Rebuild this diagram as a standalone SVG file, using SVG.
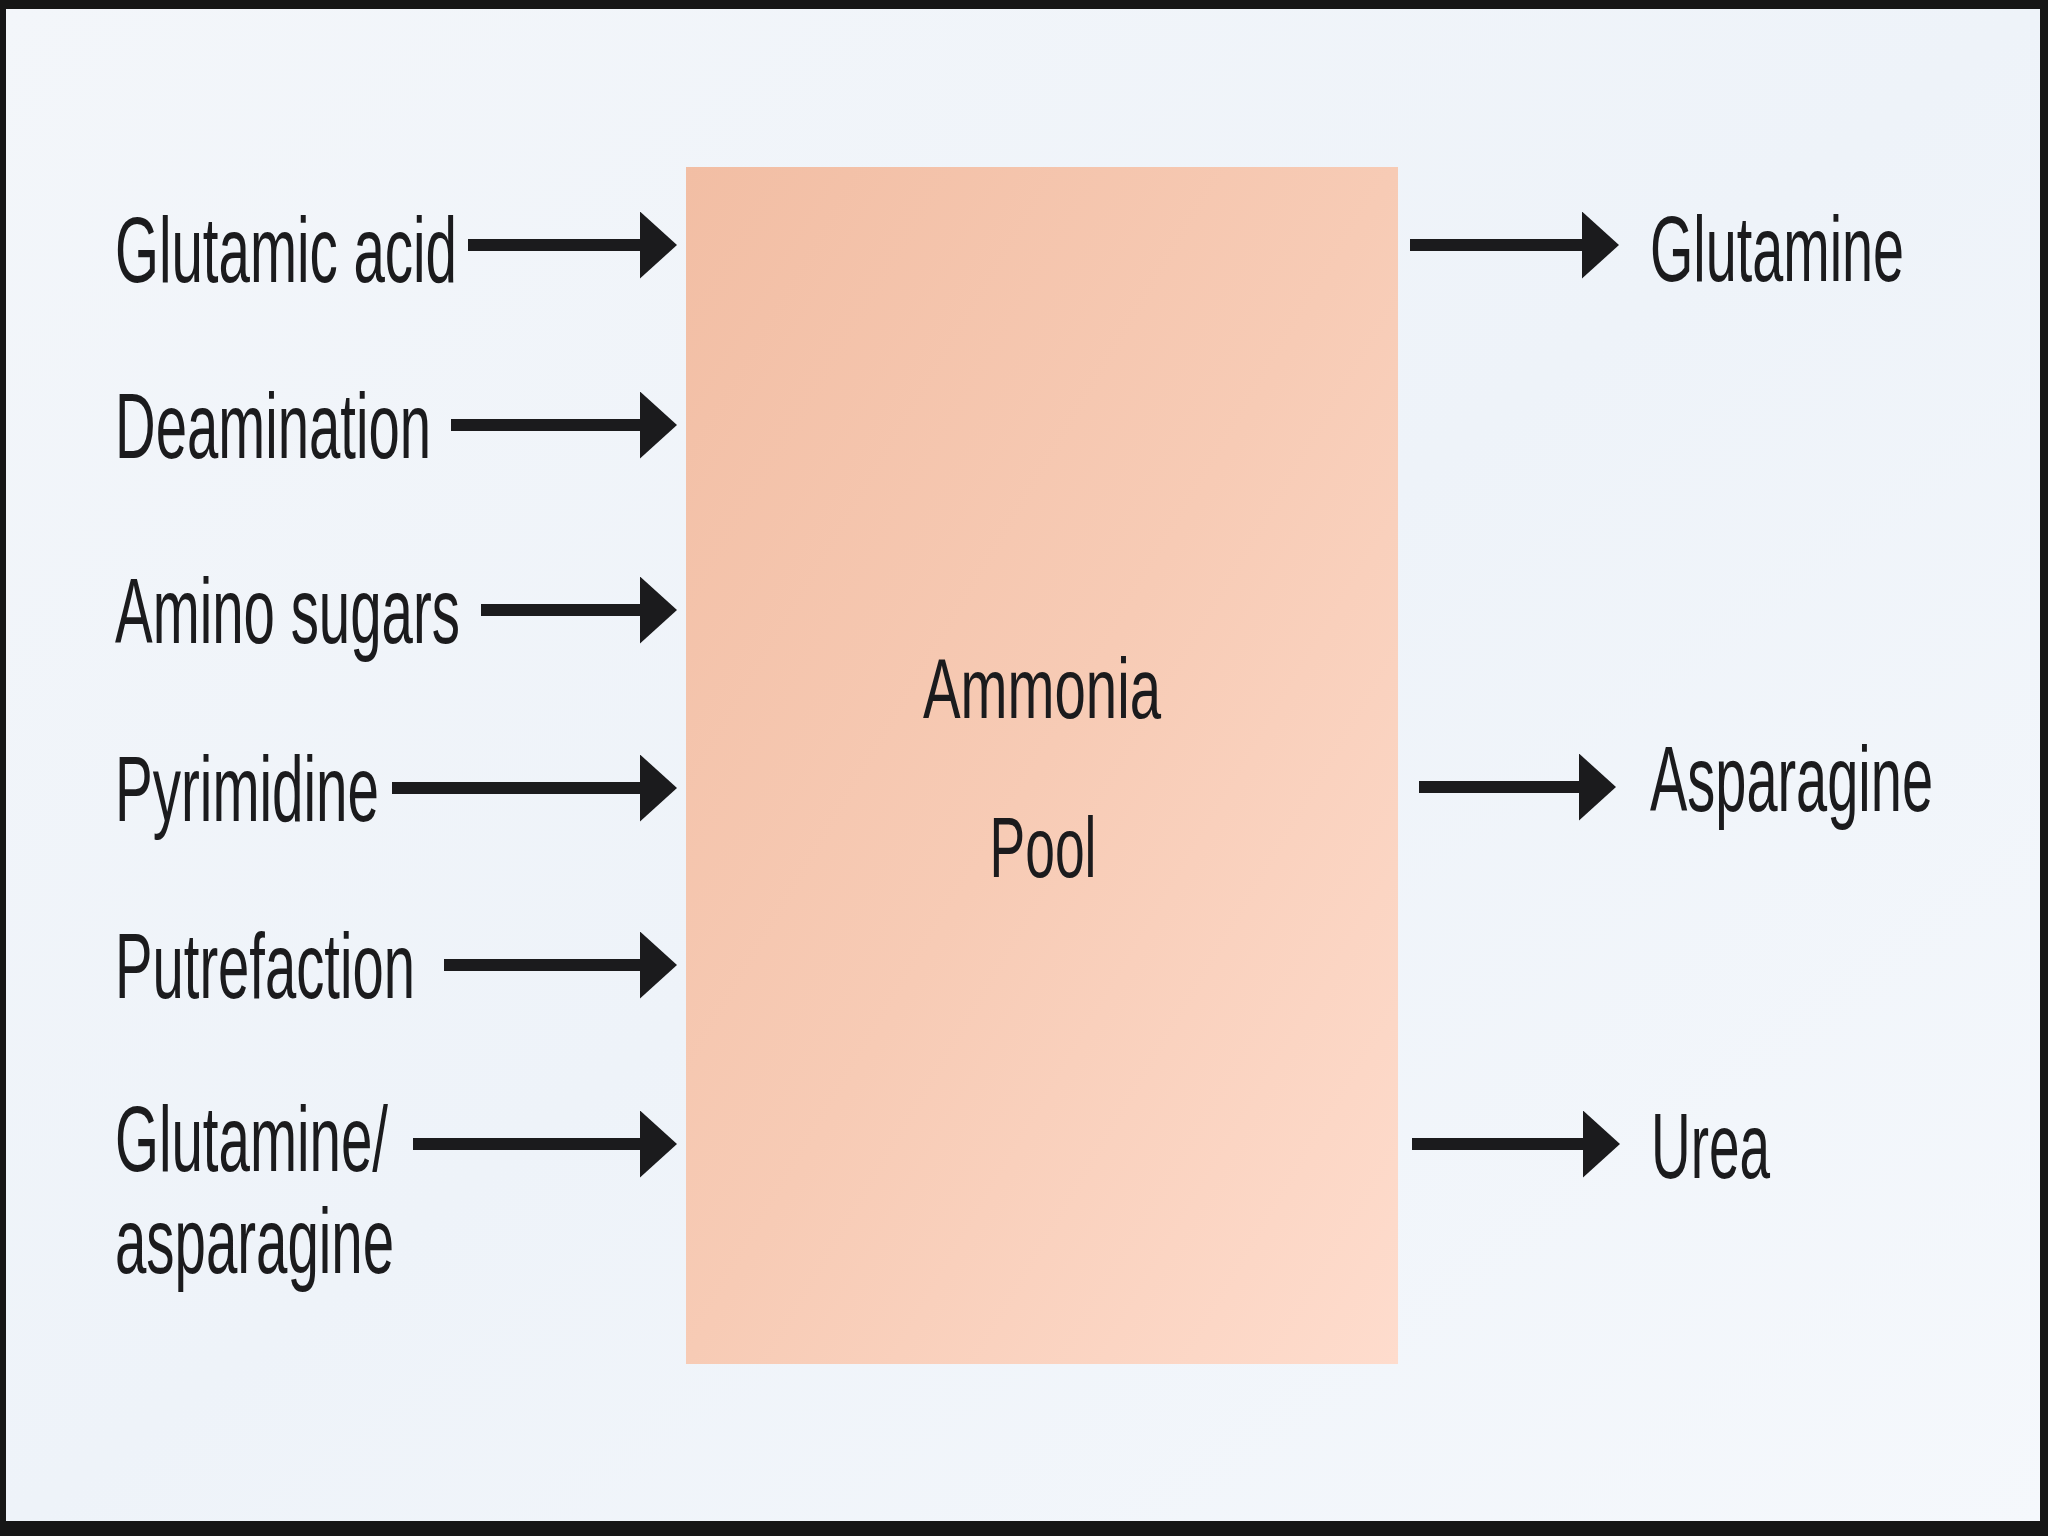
<svg xmlns="http://www.w3.org/2000/svg" width="2048" height="1536" viewBox="0 0 2048 1536">
  <defs>
    <linearGradient id="bg" x1="0" y1="0" x2="1" y2="1">
      <stop offset="0" stop-color="#f3f6fa"/>
      <stop offset="0.5" stop-color="#eef3f9"/>
      <stop offset="1" stop-color="#f5f8fc"/>
    </linearGradient>
    <linearGradient id="pool" x1="0" y1="0" x2="1" y2="1">
      <stop offset="0" stop-color="#f2bea4"/>
      <stop offset="0.5" stop-color="#f7cbb5"/>
      <stop offset="1" stop-color="#fedccd"/>
    </linearGradient>
    <marker id="head" markerUnits="userSpaceOnUse" viewBox="0 0 37 67" markerWidth="37" markerHeight="67" refX="0" refY="33.5" orient="auto">
      <path d="M0,0 L37,33.5 L0,67 Z" fill="#1b1b1d"/>
    </marker>
    <style>
      .lbl { font-family: "Liberation Sans", Arial, sans-serif; font-size: 57px; fill: #1b1b1d; }
      .mid { font-family: "Liberation Sans", Arial, sans-serif; font-size: 53px; fill: #1b1b1d; text-anchor: middle; }
      .conn { stroke: #1b1b1d; stroke-width: 12; fill: none; marker-end: url(#head); }
    </style>
  </defs>

  <rect x="0" y="0" width="2048" height="1536" fill="url(#bg)"/>
  <path d="M0,0 H2048 V1536 H0 Z M6,9 V1521 H2040 V9 Z" fill="#161616" fill-rule="evenodd"/>

  <g id="ammonia-pool">
    <rect x="686" y="167" width="712" height="1197" fill="url(#pool)"/>
    <text class="mid" transform="translate(1042,718) scale(1,1.62)" textLength="238" lengthAdjust="spacingAndGlyphs">Ammonia</text>
    <text class="mid" transform="translate(1043,877) scale(1,1.62)" textLength="107" lengthAdjust="spacingAndGlyphs">Pool</text>
  </g>

  <g id="glutamic-acid"><text class="lbl" transform="translate(115,282) scale(1,1.62)" textLength="342" lengthAdjust="spacingAndGlyphs">Glutamic acid</text></g>
  <g id="deamination"><text class="lbl" transform="translate(115,458) scale(1,1.62)" textLength="316" lengthAdjust="spacingAndGlyphs">Deamination</text></g>
  <g id="amino-sugars"><text class="lbl" transform="translate(115,643) scale(1,1.62)" textLength="345" lengthAdjust="spacingAndGlyphs">Amino sugars</text></g>
  <g id="pyrimidine"><text class="lbl" transform="translate(115,821) scale(1,1.62)" textLength="264" lengthAdjust="spacingAndGlyphs">Pyrimidine</text></g>
  <g id="putrefaction"><text class="lbl" transform="translate(115,998) scale(1,1.62)" textLength="300" lengthAdjust="spacingAndGlyphs">Putrefaction</text></g>
  <g id="glutamine-asparagine">
    <text class="lbl" transform="translate(115,1171) scale(1,1.62)" textLength="273" lengthAdjust="spacingAndGlyphs">Glutamine/</text>
    <text class="lbl" transform="translate(115,1273) scale(1,1.62)" textLength="279" lengthAdjust="spacingAndGlyphs">asparagine</text>
  </g>

  <g id="glutamine"><text class="lbl" transform="translate(1650,281) scale(1,1.62)" textLength="254" lengthAdjust="spacingAndGlyphs">Glutamine</text></g>
  <g id="asparagine"><text class="lbl" transform="translate(1650,811) scale(1,1.62)" textLength="283" lengthAdjust="spacingAndGlyphs">Asparagine</text></g>
  <g id="urea"><text class="lbl" transform="translate(1651,1178) scale(1,1.62)" textLength="119" lengthAdjust="spacingAndGlyphs">Urea</text></g>

  <g id="connectors">
    <path class="conn" d="M468,245 H640"/>
    <path class="conn" d="M451,425 H640"/>
    <path class="conn" d="M481,610 H640"/>
    <path class="conn" d="M392,788 H640"/>
    <path class="conn" d="M444,965 H640"/>
    <path class="conn" d="M413,1144 H640"/>
    <path class="conn" d="M1410,245 H1582"/>
    <path class="conn" d="M1419,787 H1579"/>
    <path class="conn" d="M1412,1144 H1583"/>
  </g>
</svg>
